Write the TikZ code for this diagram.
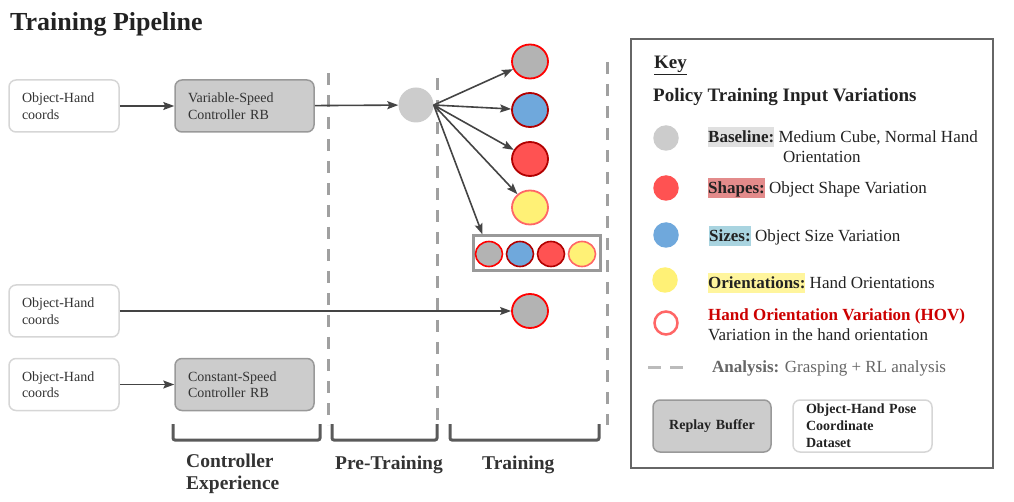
\documentclass[tikz,border=0pt]{standalone}
\usepackage{fontspec}
\setmainfont{Liberation Serif}
\usetikzlibrary{arrows.meta,shapes.geometric}
\definecolor{txt}{HTML}{333333}
\definecolor{titlec}{HTML}{222222}
\definecolor{boxlight}{HTML}{D6D6D6}
\definecolor{boxgray}{HTML}{CCCCCC}
\definecolor{boxborder}{HTML}{999999}
\definecolor{arrowc}{HTML}{444444}
\definecolor{dashc}{HTML}{A0A0A0}
\definecolor{brk}{HTML}{5A5A5A}
\definecolor{cgray}{HTML}{B3B3B3}
\definecolor{cblue}{HTML}{6FA8DC}
\definecolor{cred}{HTML}{FF5252}
\definecolor{cyellow}{HTML}{FFF176}
\definecolor{sred}{HTML}{FF0000}
\definecolor{sdark}{HTML}{B20000}
\definecolor{slight}{HTML}{FF6666}
\definecolor{keyborder}{HTML}{666666}
\definecolor{hlgray}{HTML}{E0E0E0}
\definecolor{hlred}{HTML}{E38B8B}
\definecolor{hlblue}{HTML}{A9D4E0}
\definecolor{hlyellow}{HTML}{FFF59D}
\definecolor{hovred}{HTML}{CC0000}
\definecolor{legdash}{HTML}{BBBBBB}
\newcommand\hlbx[2]{{\setlength\fboxsep{0pt}\colorbox{#1}{\rule[-4pt]{0pt}{20pt}\textbf{#2}}}}
\begin{document}
\begin{tikzpicture}[x=1pt,y=-1pt,
  whitebox/.style={draw=boxlight, line width=1.5pt, fill=white, rounded corners=7pt,
    minimum height=52pt, text width=84pt, inner xsep=13pt, inner ysep=0pt, align=left,
    font=\fontsize{14}{16.5}\selectfont, text=txt},
  graybox/.style={whitebox, draw=boxborder, fill=boxgray, text width=113pt},
  conn/.style={draw=arrowc, line width=1.6pt, -{Stealth[length=11pt,width=8pt,inset=2pt]}},
  phase/.style={draw=dashc, line width=3pt, dash pattern=on 12pt off 10pt},
  bracketc/.style={draw=brk, line width=3pt, rounded corners=2pt},
  tcirc/.style={ellipse, minimum width=36pt, minimum height=34pt, inner sep=0pt, line width=1.8pt},
  scirc/.style={ellipse, minimum width=27pt, minimum height=25pt, inner sep=0pt, line width=1.6pt},
  lcirc/.style={circle, minimum size=25.5pt, inner sep=0pt},
  blabel/.style={anchor=base west, inner sep=0pt, text=txt, font=\fontsize{19.5}{22}\selectfont\bfseries},
  ltext/.style={anchor=base west, inner sep=0pt, text=titlec, font=\fontsize{17}{20}\selectfont},
]
\useasboundingbox (0,0) rectangle (1014,502);

% title
\node[anchor=base west, inner sep=0pt, text=titlec, font=\fontsize{26}{30}\selectfont\bfseries] (title) at (10,31) {Training Pipeline};

% phase separators
\draw[phase] (328,73) -- (328,425);
\draw[phase] (437,78) -- (437,422);
\draw[phase] (607,62) -- (607,425);

% brackets
\draw[bracketc] (173,424) -- (173,440) -- (320,440) -- (320,424);
\draw[bracketc] (332,424) -- (332,440) -- (437,440) -- (437,424);
\draw[bracketc] (450,424) -- (450,440) -- (599,440) -- (599,424);
\node[blabel] (lce1) at (186,467) {Controller};
\node[blabel] (lce2) at (186,489) {Experience};
\node[blabel] (lpre) at (335,469) {Pre-Training};
\node[blabel] (ltr) at (482,469) {Training};

% pipeline nodes
\node[whitebox] (in1) at (64,106) {Object-Hand\\coords};
\node[graybox] (vs) at (244.5,106) {Variable-Speed\\Controller RB};
\node[circle, fill=boxgray, minimum size=35pt, inner sep=0pt] (pre) at (416,105) {};
\node[tcirc, fill=cgray, draw=sred] (c1) at (530,61.5) {};
\node[tcirc, fill=cblue, draw=sdark] (c2) at (530,110) {};
\node[tcirc, fill=cred, draw=sdark] (c3) at (530,159) {};
\node[tcirc, fill=cyellow, draw=slight] (c4) at (530,207.5) {};
\node[draw=boxborder, line width=3pt, fill=white, minimum width=127pt, minimum height=35pt, inner sep=0pt] (grp) at (536.5,253.5) {};
\node[scirc, fill=cgray, draw=sred] (g1) at (489,254) {};
\node[scirc, fill=cblue, draw=sdark] (g2) at (520,254) {};
\node[scirc, fill=cred, draw=sdark] (g3) at (551,254) {};
\node[scirc, fill=cyellow, draw=slight] (g4) at (582,254) {};
\node[whitebox] (in2) at (64,311) {Object-Hand\\coords};
\node[tcirc, fill=cgray, draw=sred] (lone) at (530,311) {};
\node[whitebox] (in3) at (64,384.5) {Object-Hand\\coords};
\node[graybox] (cs) at (244.5,384.5) {Constant-Speed\\Controller RB};

% connectors
\draw[conn] (in1) -- (vs);
\draw[conn] (vs) -- (pre);
\foreach \t in {c1,c2,c3,c4} \draw[conn] (pre.east) -- (\t);
\coordinate (gtop) at ([xshift=11pt]grp.north west);
\draw[conn] (pre.east) -- (gtop);
\draw[conn] (in2) -- (lone);
\draw[conn] (in3) -- (cs);

% key
\node[draw=keyborder, line width=2pt, minimum width=362pt, minimum height=429pt, inner sep=0pt] (key) at (812,253.5) {};
\node[anchor=base west, inner sep=0pt, text=titlec, font=\fontsize{19}{22}\selectfont\bfseries] (keyt) at (654,69) {\underline{Key}};
\node[anchor=base west, inner sep=0pt, text=titlec, font=\fontsize{19}{22}\selectfont\bfseries] (ptiv) at (653,102) {Policy Training Input Variations};

\node[lcirc, fill=boxgray] (l1) at (666,138) {};
\node[lcirc, fill=cred] (l2) at (666,188) {};
\node[lcirc, fill=cblue] (l3) at (666,235) {};
\node[lcirc, fill=cyellow] (l4) at (665,280) {};
\node[lcirc, draw=slight, line width=2.5pt, fill=white, minimum size=23pt] (l5) at (666,323) {};

\node[ltext] (t1) at (708,143) {\hlbx{hlgray}{Baseline:} Medium Cube, Normal Hand};
\node[ltext] (t1b) at (783,163) {Orientation};
\node[ltext] (t2) at (708,194) {\hlbx{hlred}{Shapes:} Object Shape Variation};
\node[ltext] (t3) at (709,242) {\hlbx{hlblue}{Sizes:} Object Size Variation};
\node[ltext] (t4) at (708,289) {\hlbx{hlyellow}{Orientations:} Hand Orientations};
\node[ltext, text=hovred, font=\fontsize{17}{20}\selectfont\bfseries] (t5) at (708,321) {Hand Orientation Variation (HOV)};
\node[ltext] (t5b) at (708,341) {Variation in the hand orientation};
\coordinate (ld1) at (648,367);
\coordinate (ld2) at (683,367);
\draw[draw=legdash, line width=3pt, dash pattern=on 13pt off 9pt] (ld1) -- (ld2);
\node[ltext, text=keyborder] (t6) at (712,372) {\textbf{Analysis:} Grasping + RL analysis};

\node[graybox, text width=90pt, minimum width=118pt, inner xsep=14pt, align=center, font=\fontsize{14}{17}\selectfont\bfseries, text=titlec] (rb) at (712,426) {Replay Buffer};
\node[whitebox, text width=113pt, font=\fontsize{14}{17}\selectfont\bfseries, text=titlec] (ohp) at (862.5,426) {Object-Hand Pose\\Coordinate\\Dataset};
\end{tikzpicture}
\end{document}
